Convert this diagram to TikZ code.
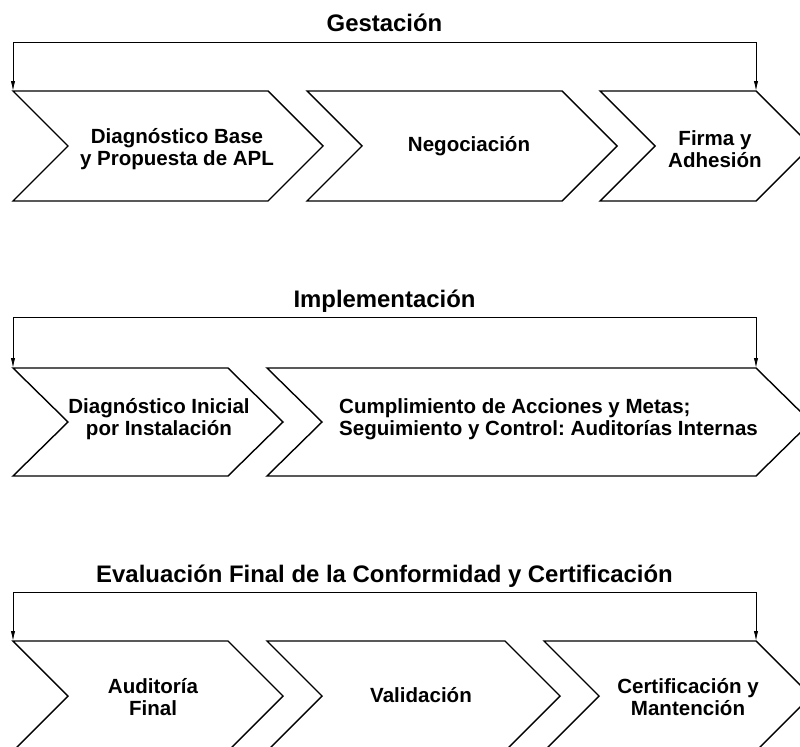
\documentclass[tikz,border=0pt]{standalone}
\usepackage{fontspec}
\setmainfont{Liberation Sans}
\usetikzlibrary{arrows.meta}
\frenchspacing

\begin{document}
\begin{tikzpicture}[x=0.025cm,y=-0.025cm,
  chev/.style={draw=black,line width=1pt,line join=miter},
  brk/.style={draw=black,line width=0.6pt,{Latex[length=7pt,width=3pt]}-{Latex[length=7pt,width=3pt]}},
  phase/.style={font=\fontsize{17}{20}\selectfont\bfseries,anchor=base},
  chevtext/.style={font=\fontsize{14.6}{15.6}\selectfont\bfseries,align=center}]
\clip (0,0) rectangle (800,747);
\begin{scope}[]
\draw[chev] (13,91) coordinate (g1) -- (268,91) -- (323,146) -- (268,201) -- (13,201) -- (68,146) -- cycle;
\draw[chev] (307,91) -- (562,91) -- (617,146) -- (562,201) -- (307,201) -- (362,146) -- cycle;
\draw[chev] (600,91) -- (756,91) coordinate (g3) -- (811,146) -- (756,201) -- (600,201) -- (655,146) -- cycle;
\coordinate (gtop) at (756,42);
\draw[brk] (g1) |- (gtop) -- (g3);
\node (gest) at (384.5,32) [phase] {Gestación};
\node (diagbase) at (177,149) [chevtext] {Diagnóstico Base\\y Propuesta de APL};
\node (nego) at (469,152) [chevtext,anchor=base] {Negociación};
\node (firma) at (715,149) [chevtext] {Firma y\\Adhesión};
\end{scope}
\begin{scope}[]
\draw[chev] (13,368) coordinate (i1) -- (228,368) -- (283,422) -- (228,476) -- (13,476) -- (68,422) -- cycle;
\draw[chev] (267,368) -- (756,368) coordinate (i2) -- (811,422) -- (756,476) -- (267,476) -- (322,422) -- cycle;
\coordinate (itop) at (756,317);
\draw[brk] (i1) |- (itop) -- (i2);
\node (impl) at (384.5,307) [phase] {Implementación};
\node (diaginic) at (159,419) [chevtext] {Diagnóstico Inicial\\por Instalación};
\node (cumpl) at (548.5,419) [chevtext,align=left] {Cumplimiento de Acciones y Metas;\\Seguimiento y Control: Auditorías Internas};
\end{scope}
\begin{scope}[]
\draw[chev] (13,641) coordinate (e1) -- (228,641) -- (283,696) -- (228,751) -- (13,751) -- (68,696) -- cycle;
\draw[chev] (267,641) -- (505,641) -- (560,696) -- (505,751) -- (267,751) -- (322,696) -- cycle;
\draw[chev] (544,641) -- (756,641) coordinate (e3) -- (811,696) -- (756,751) -- (544,751) -- (599,696) -- cycle;
\coordinate (etop) at (756,592);
\draw[brk] (e1) |- (etop) -- (e3);
\node (evalf) at (384.5,582) [phase] {Evaluación Final de la Conformidad y Certificación};
\node (audit) at (153,697) [chevtext] {Auditoría\\Final};
\node (valid) at (421,702) [chevtext,anchor=base] {Validación};
\node (certif) at (688,697) [chevtext] {Certificación y\\Mantención};
\end{scope}
\end{tikzpicture}
\end{document}
